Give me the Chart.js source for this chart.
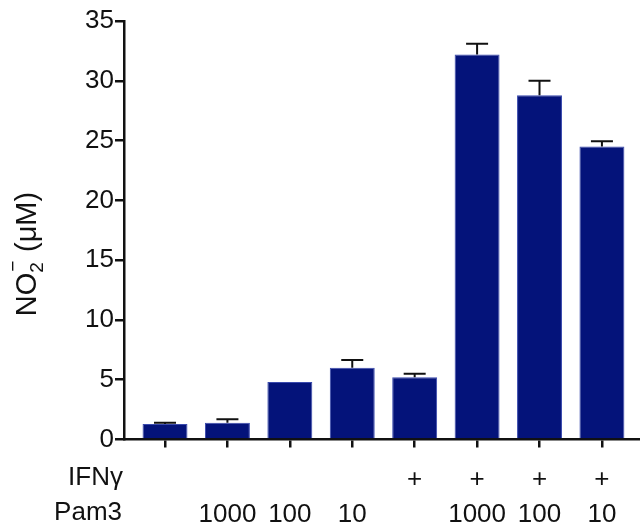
<!DOCTYPE html>
<html>
<head>
<meta charset="utf-8">
<script src="https://cdn.jsdelivr.net/npm/chart.js@4"></script>
<style>
  html, body { margin: 0; padding: 0; background: #fff; }
  #wrap { width: 640px; height: 526px; }
</style>
</head>
<body>
<div id="wrap"><canvas id="myChart" width="640" height="526"></canvas></div>
<script>
const ifnRow = ["", "", "", "", "+", "+", "+", "+"];
const pamRow = ["", "1000", "100", "10", "", "1000", "100", "10"];
const no2Mean = [1.3, 1.4, 4.8, 6.0, 5.2, 32.2, 28.8, 24.5];
const no2Sem = [0.1, 0.3, 0, 0.65, 0.3, 0.9, 1.2, 0.45];
const yTicks = [0, 5, 10, 15, 20, 25, 30, 35];

const FONT = "'Liberation Sans', Arial, sans-serif";

// error bars on top of each bar
const errorBars = {
  id: "errorBars",
  afterDatasetsDraw(chart) {
    const ctx = chart.ctx;
    const meta = chart.getDatasetMeta(0);
    const y = chart.scales.y;
    ctx.save();
    ctx.strokeStyle = "#111";
    ctx.lineWidth = 2;
    meta.data.forEach((bar, i) => {
      if (!no2Sem[i]) return;
      const top = y.getPixelForValue(no2Mean[i] + no2Sem[i]);
      ctx.beginPath();
      ctx.moveTo(bar.x, bar.y);
      ctx.lineTo(bar.x, top);
      ctx.moveTo(bar.x - 11, top);
      ctx.lineTo(bar.x + 11, top);
      ctx.stroke();
    });
    ctx.restore();
  }
};

// row names under the x axis and the rotated y title
const extraText = {
  id: "extraText",
  afterDraw(chart) {
    const ctx = chart.ctx;
    const area = chart.chartArea;
    ctx.save();
    ctx.fillStyle = "#111";
    ctx.font = "26px " + FONT;
    ctx.textAlign = "right";
    ctx.textBaseline = "middle";
    ctx.fillText("IFNγ", area.left - 1, 478);
    ctx.fillText("Pam3", area.left - 2, 513);

    // NO2⁻ (μM)
    ctx.translate(26, 254);
    ctx.rotate(-Math.PI / 2);
    const big = "29px " + FONT;
    const small = "19px " + FONT;
    ctx.font = big;
    const w1 = ctx.measureText("NO").width;
    const w3 = ctx.measureText(" (μM)").width;
    ctx.font = small;
    const w2 = ctx.measureText("2").width + 2;
    const total = w1 + w2 + w3;
    let x = -total / 2;
    ctx.textAlign = "left";
    ctx.textBaseline = "alphabetic";
    ctx.font = big;
    ctx.fillText("NO", x, 10);
    x += w1;
    ctx.font = small;
    ctx.fillText("2", x, 17);
    ctx.fillText("\u2212", x + 1, -7);
    x += w2;
    ctx.font = big;
    ctx.fillText(" (μM)", x, 10);
    ctx.restore();
  }
};

new Chart(document.getElementById("myChart"), {
  type: "bar",
  data: {
    datasets: [{
      data: no2Mean.map((v, i) => ({ x: i, y: v })),
      backgroundColor: "#04137a",
      borderColor: "#3a4aae",
      borderWidth: 1,
      borderSkipped: "bottom",
      barPercentage: 0.72,
      categoryPercentage: 1
    }]
  },
  options: {
    responsive: false,
    animation: false,
    layout: { padding: { top: 21, right: 0, left: 0, bottom: 0 } },
    plugins: { legend: { display: false }, tooltip: { enabled: false } },
    scales: {
      x: {
        type: "linear",
        min: -0.657,
        max: 7.61,
        offset: false,
        afterBuildTicks: (s) => { s.ticks = no2Mean.map((v, i) => ({ value: i })); },
        afterFit: (s) => { s.height = 86.5; },
        border: { color: "#111", width: 2.5 },
        grid: { offset: false, drawOnChartArea: false, color: "#111", lineWidth: 2.5, tickLength: 8 },
        ticks: {
          color: "#111",
          font: { family: FONT, size: 26, lineHeight: 1.35 },
          padding: 15,
          maxRotation: 0,
          autoSkip: false,
          callback: (v) => [ifnRow[v], pamRow[v]]
        }
      },
      y: {
        min: 0,
        max: 35,
        afterBuildTicks: (s) => { s.ticks = yTicks.map((v) => ({ value: v })); },
        afterFit: (s) => { s.width = 124; },
        border: { color: "#111", width: 2.5 },
        grid: { drawOnChartArea: false, color: "#111", lineWidth: 2.5, tickLength: 9 },
        ticks: {
          color: "#111",
          font: { family: FONT, size: 26 },
          padding: 1
        }
      }
    }
  },
  plugins: [errorBars, extraText]
});
</script>
</body>
</html>
